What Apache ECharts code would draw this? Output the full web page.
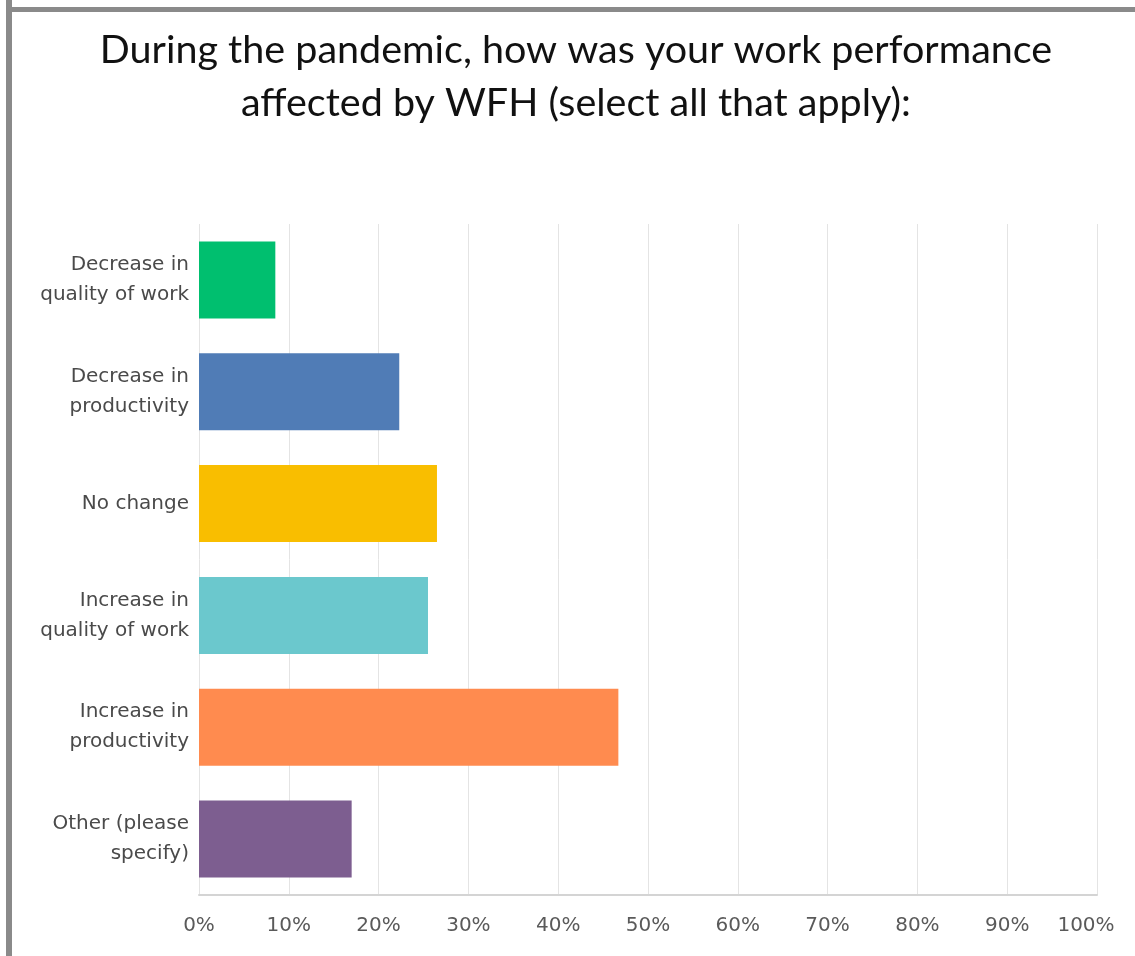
<!DOCTYPE html>
<html>
<head>
<meta charset="utf-8">
<style>html,body{margin:0;padding:0;background:#fff;}#c{width:1135px;height:956px;}</style>
<script src="https://cdn.jsdelivr.net/npm/echarts@6/dist/echarts.min.js"></script>
</head>
<body>
<div id="c"></div>
<script>
const categories = ["Decrease in\nquality of work", "Decrease in\nproductivity", "No change", "Increase in\nquality of work", "Increase in\nproductivity", "Other (please\nspecify)"];
const values = [8.5, 22.3, 26.5, 25.5, 46.7, 17.0];
const barColors = ["#00BF6F", "#507CB6", "#F9BE00", "#6BC8CD", "#FF8B4F", "#7D5E90"];
const xTicks = [0, 10, 20, 30, 40, 50, 60, 70, 80, 90, 100];
const titleText = "During the pandemic, how was your work performance\naffected by WFH (select all that apply):";

const chart = echarts.init(document.getElementById('c'), null, {renderer: 'canvas'});
const labelFont = "'DejaVu Sans', sans-serif";
chart.setOption({
  backgroundColor: '#ffffff',
  animation: false,
  title: {
    text: titleText,
    left: 576,
    top: 24,
    textAlign: 'center',
    padding: 0,
    textStyle: {
      fontFamily: "Lato, 'Open Sans', sans-serif",
      fontSize: 39.5,
      fontWeight: 'normal',
      color: '#111111',
      lineHeight: 53
    }
  },
  graphic: [
    {type: 'rect', shape: {x: 6, y: 0, width: 6, height: 956}, style: {fill: '#8a8a8a'}, silent: true},
    {type: 'rect', shape: {x: 6, y: 7, width: 1129, height: 5}, style: {fill: '#8a8a8a'}, silent: true}
  ],
  grid: {left: 199, right: 38, top: 224, bottom: 61, containLabel: false},
  xAxis: {
    type: 'value',
    min: 0,
    max: 100,
    interval: 10,
    axisLine: {show: true, lineStyle: {color: '#d4d4d4', width: 2}},
    axisTick: {show: false},
    splitLine: {show: true, lineStyle: {color: '#e4e4e4', width: 1}},
    axisLabel: {
      margin: 21,
      color: '#5a5a5a',
      fontFamily: labelFont,
      fontSize: 20,
      formatter: function (v) {
        return v === 100 ? '{last|' + v + '%}' : v + '%';
      },
      rich: {
        last: {fontFamily: labelFont, fontSize: 20, color: '#5a5a5a', padding: [0, 22, 0, 0]}
      }
    },
    data: xTicks
  },
  yAxis: {
    type: 'category',
    inverse: true,
    data: categories,
    axisLine: {show: false},
    axisTick: {show: false},
    splitLine: {show: false},
    axisLabel: {
      margin: 10,
      color: '#4a4a4a',
      fontFamily: labelFont,
      fontSize: 20,
      lineHeight: 30,
      padding: [4, 0, 0, 0],
      align: 'right'
    }
  },
  series: [{
    type: 'bar',
    data: values.map((v, i) => ({value: v, itemStyle: {color: barColors[i]}})),
    barWidth: 77,
    silent: true
  }]
});
</script>
</body>
</html>
